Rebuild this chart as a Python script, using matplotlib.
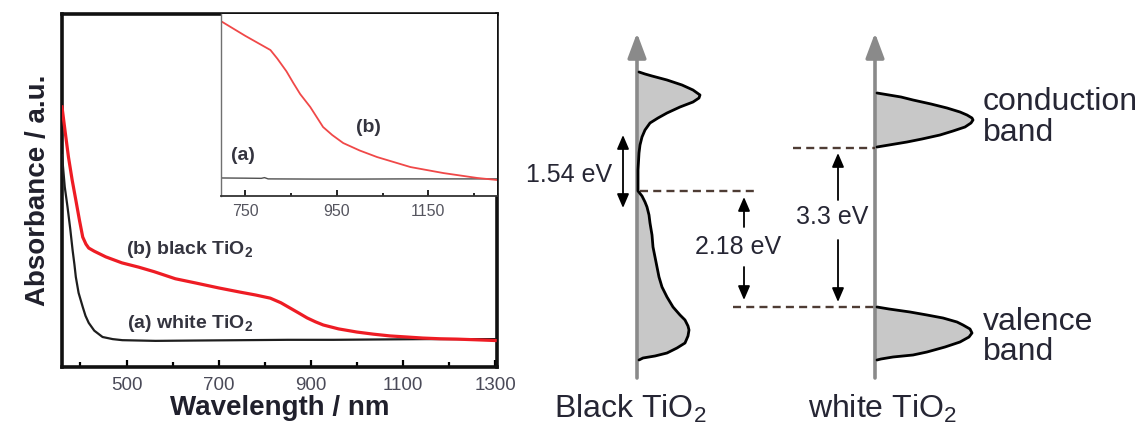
import numpy as np
import matplotlib
matplotlib.use('Agg')
import matplotlib.pyplot as plt

plt.rcParams['font.family'] = ['Liberation Sans', 'DejaVu Sans']
plt.rcParams['mathtext.fontset'] = 'custom'
plt.rcParams['mathtext.rm'] = 'Liberation Sans'
plt.rcParams['mathtext.bf'] = 'Liberation Sans:bold'

# ---- UV-vis spectra (main panel) ----
red_nm = [360, 367, 374, 382, 390, 398, 405, 412, 418, 430, 455, 490, 526, 560,
          606, 650, 700, 747, 780, 812, 835, 855, 875, 892, 910, 927, 960, 1000,
          1036, 1072, 1108, 1143, 1180, 1217, 1260, 1300]
red_abs = [0.737, 0.665, 0.595, 0.530, 0.473, 0.415, 0.368, 0.348, 0.337, 0.328,
           0.312, 0.295, 0.283, 0.270, 0.250, 0.238, 0.224, 0.212, 0.204, 0.195,
           0.182, 0.167, 0.152, 0.139, 0.128, 0.119, 0.108, 0.099, 0.093, 0.088,
           0.085, 0.082, 0.080, 0.079, 0.077, 0.075]
blk_nm = [360, 366, 372, 378, 383, 387, 390, 396, 405, 411, 418, 430, 448, 470,
          491, 563, 650, 750, 850, 950, 1050, 1150, 1250, 1300]
blk_abs = [0.600, 0.510, 0.453, 0.390, 0.331, 0.290, 0.255, 0.210, 0.170, 0.145,
           0.125, 0.103, 0.085, 0.079, 0.076, 0.074, 0.075, 0.076, 0.077, 0.077,
           0.078, 0.079, 0.079, 0.079]

# ---- inset (zoom 700-1300 nm) ----
ins_red_nm = [700, 750, 805, 820, 840, 855, 870, 892, 920, 940, 964, 1000, 1038,
              1111, 1183, 1257, 1300]
ins_red_abs = [0.956, 0.880, 0.802, 0.755, 0.685, 0.621, 0.560, 0.489, 0.379,
               0.335, 0.291, 0.250, 0.214, 0.159, 0.126, 0.099, 0.088]
ins_blk_nm = [700, 750, 785, 792, 800, 900, 1000, 1100, 1200, 1300]
ins_blk_abs = [0.099, 0.098, 0.097, 0.101, 0.094, 0.093, 0.093, 0.094, 0.094, 0.094]

main_ticks = [500, 700, 900, 1100, 1300]
ins_ticks = [750, 950, 1150]

# ---- band diagram (schematic), positions along energy axis and DOS widths ----
blk_dos_y = [72, 74, 76, 80, 85, 90, 95, 98, 102, 107, 113, 118, 123, 130, 137,
             145, 153, 170, 191, 196, 202, 207, 215, 223, 235, 247, 257, 267,
             277, 287, 297, 307, 315, 320, 326, 330, 336, 343, 348, 353, 356, 358, 360]
blk_dos_w = [2, 8, 15, 30, 45, 56, 63, 62, 56, 43, 30, 21, 13, 8, 5, 3, 2, 1, 1,
             5, 8, 10, 12, 13, 15, 16, 18, 20, 22, 25, 30, 36, 43, 48, 51, 52, 51,
             48, 40, 30, 18, 6, 2]
cb_y = [93, 95, 97, 100, 104, 108, 112, 115, 118, 120, 123, 127, 131, 135, 139, 142, 145, 147]
cb_w = [2, 14, 26, 38, 56, 72, 85, 92, 97, 98, 96, 90, 78, 65, 47, 32, 14, 2]
vb_y = [307, 309, 312, 315, 318, 322, 325, 329, 333, 337, 342, 347, 352, 355, 357, 359, 360]
vb_w = [2, 14, 35, 52, 68, 82, 88, 95, 97, 94, 85, 70, 52, 38, 18, 6, 2]

fig = plt.figure(figsize=(11.45, 4.28), dpi=100)
W, H = 1145.0, 428.0

# %% main spectrum
ax = fig.add_axes([62 / W, (H - 367) / H, (497 - 62) / W, (367 - 14) / H])
ax.plot(blk_nm, blk_abs, color='#1e1e1e', lw=1.6, zorder=3)
ax.plot(red_nm, red_abs, color='#ee1c24', lw=2.3, zorder=4)
ax.set_xlim(360, 1304)
ax.set_ylim(0, 1)
ax.set_xticks(main_ticks)
ax.set_xticks([400, 600, 800, 1000, 1200], minor=True)
ax.set_yticks([])
ax.tick_params(axis='x', which='major', direction='in', length=5, width=1.6,
               pad=7, labelsize=13.5, labelcolor='#4a4a58')
ax.tick_params(axis='x', which='minor', direction='in', length=3.5, width=1.6)
for s in ax.spines.values():
    s.set_linewidth(2.6)
    s.set_color('#111111')
ax.set_xlabel('Wavelength / nm', fontsize=20, fontweight='bold', color='#20202c', labelpad=1)
ax.set_ylabel('Absorbance / a.u.', fontsize=20, fontweight='bold', color='#20202c', labelpad=8)
ax.text(498, 0.334, r'(b) black TiO$_\mathbf{2}$', fontsize=14, fontweight='bold',
        color='#34343f', va='center', ha='left')
ax.text(502, 0.122, r'(a) white TiO$_\mathbf{2}$', fontsize=14, fontweight='bold',
        color='#34343f', va='center', ha='left')

# %% inset
axi = fig.add_axes([221 / W, (H - 196) / H, (497 - 221) / W, (196 - 14) / H])
axi.plot(ins_blk_nm, ins_blk_abs, color='#505050', lw=1.0)
axi.plot(ins_red_nm, ins_red_abs, color='#f04848', lw=1.3)
axi.set_xlim(697, 1300)
axi.set_ylim(0, 1)
axi.set_xticks(ins_ticks)
axi.set_xticks([850, 1050, 1250], minor=True)
axi.set_yticks([])
axi.tick_params(axis='x', which='major', direction='in', length=4, width=1.2,
                pad=6, labelsize=11.5, labelcolor='#55555f')
axi.tick_params(axis='x', which='minor', direction='in', length=2.5, width=1.2)
axi.spines['top'].set_visible(False)
axi.spines['right'].set_visible(False)
axi.spines['left'].set_color('#707070')
axi.spines['left'].set_linewidth(1.0)
axi.spines['bottom'].set_color('#333333')
axi.spines['bottom'].set_linewidth(1.3)
axi.text(1019, 0.379, '(b)', fontsize=14, fontweight='bold', color='#34343f',
         ha='center', va='center')
axi.text(746, 0.225, '(a)', fontsize=14, fontweight='bold', color='#34343f',
         ha='center', va='center')

# %% band diagram
axb = fig.add_axes([510 / W, 0, (W - 510) / W, 1])
axb.set_xlim(510, W)
axb.set_ylim(H, 0)
axb.axis('off')

gray = '#8a8a8a'
fill = '#c8c8c8'
dash_col = '#4e3c34'
txt_col = '#262634'

x_blk, x_wht = 637, 875

def dos(xa, ys, ws):
    xs = xa + np.array(ws, dtype=float)
    axb.fill_betweenx(ys, xa, xs, color=fill, lw=0, zorder=1)
    axb.plot(xs, ys, color='black', lw=2.0, zorder=3, solid_capstyle='round')

dos(x_blk, blk_dos_y, blk_dos_w)
dos(x_wht, cb_y, cb_w)
dos(x_wht, vb_y, vb_w)

for xa in (x_blk, x_wht):
    axb.annotate('', xy=(xa, 33), xytext=(xa, 378),
                 arrowprops=dict(arrowstyle='-|>,head_length=0.75,head_width=0.28',
                                 mutation_scale=20, lw=2.6, color=gray,
                                 shrinkA=0, shrinkB=0), zorder=2)

dash = (0, (3.4, 2.2))
axb.plot([640, 755], [191, 191], color=dash_col, lw=1.7, ls=dash)
axb.plot([793, x_wht], [148, 148], color=dash_col, lw=1.7, ls=dash)
axb.plot([733, x_wht], [307, 307], color=dash_col, lw=1.7, ls=dash)

arw = dict(arrowstyle='-|>,head_length=0.7,head_width=0.3', mutation_scale=12,
           lw=1.3, color='black', shrinkA=0, shrinkB=0)
arw2 = dict(arw, arrowstyle='<|-|>,head_length=0.7,head_width=0.3')
axb.annotate('', xy=(623, 135), xytext=(623, 208), arrowprops=arw2)
axb.annotate('', xy=(744, 197), xytext=(744, 227), arrowprops=arw)
axb.annotate('', xy=(744, 300), xytext=(744, 267), arrowprops=arw)
axb.annotate('', xy=(838, 153), xytext=(838, 200), arrowprops=arw)
axb.annotate('', xy=(838, 302), xytext=(838, 240), arrowprops=arw)

axb.text(569, 175, '1.54 eV', fontsize=18, color=txt_col, ha='center', va='center')
axb.text(738, 247, '2.18 eV', fontsize=18, color=txt_col, ha='center', va='center')
axb.text(832, 217, '3.3 eV', fontsize=18, color=txt_col, ha='center', va='center')

axb.text(983, 102, 'conduction', fontsize=23, color=txt_col, ha='left', va='center')
axb.text(983, 133, 'band', fontsize=23, color=txt_col, ha='left', va='center')
axb.text(983, 322, 'valence', fontsize=23, color=txt_col, ha='left', va='center')
axb.text(983, 352, 'band', fontsize=23, color=txt_col, ha='left', va='center')

axb.text(630, 418, r'Black TiO$_2$', fontsize=23, color=txt_col, ha='center', va='baseline')
axb.text(882, 418, r'white TiO$_2$', fontsize=23, color=txt_col, ha='center', va='baseline')

fig.savefig('out.png', dpi=100)
